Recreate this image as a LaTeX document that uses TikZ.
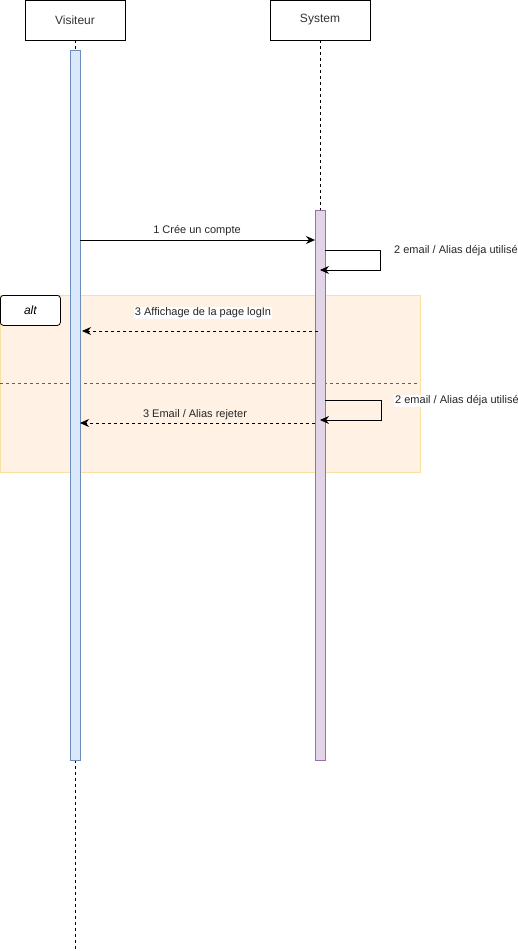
\documentclass[tikz,border=0pt]{standalone}
\usepackage{fontspec}
\setmainfont{Liberation Sans}
\usetikzlibrary{arrows.meta}
\definecolor{actfillA}{HTML}{DAE8FC}
\definecolor{actdrawA}{HTML}{6C8EBF}
\definecolor{actfillB}{HTML}{E1D5E7}
\definecolor{actdrawB}{HTML}{9673A6}
\definecolor{altfill}{HTML}{FFF2E5}
\definecolor{altdraw}{HTML}{F9E1A2}
\definecolor{sepgray}{HTML}{606060}
\tikzset{
  actor/.style={draw, line width=0.9pt, fill=white, minimum width=100pt, minimum height=40pt, inner sep=0pt, font=\fontsize{12}{14}\selectfont, text=black!80},
  life/.style={line width=0.8pt, dash pattern=on 3pt off 3pt},
  actA/.style={draw=actdrawA, fill=actfillA, line width=0.9pt},
  actB/.style={draw=actdrawB, fill=actfillB, line width=0.9pt},
  msg/.style={line width=0.8pt, -{Stealth[length=9pt,width=8pt]}},
  rmsg/.style={line width=0.8pt, dash pattern=on 3pt off 3pt, -{Stealth[length=9pt,width=8pt]}},
  lbl/.style={font=\fontsize{11}{13}\selectfont, text=black!85, inner sep=1pt},
  lblbg/.style={lbl, fill=white},
}
\begin{document}
\begin{tikzpicture}[x=1pt,y=-1pt]
\useasboundingbox (0,0) rectangle (518,951);
% alt frame
\node[draw=altdraw, fill=altfill, line width=0.8pt, minimum width=420pt, minimum height=177pt, inner sep=0pt, anchor=north west] (frame) at (0,295) {};
\draw[sepgray, line width=1pt, dash pattern=on 3pt off 3pt] (0,383) coordinate (sepL) -- (418,383) coordinate (sepR);
\node[draw, fill=white, rounded corners=3pt, line width=0.8pt, minimum width=60pt, minimum height=30pt, inner sep=0pt, anchor=north west, font=\fontsize{12}{14}\selectfont\itshape] (alt) at (0,295) {alt};
% actors
\node[actor] (vis) at (75,20) {Visiteur};
\node[actor] (sys) at (320,20) {System};
\coordinate (visEnd) at (75,950);
\coordinate (sysAct) at (320,210);
\draw[life] (vis.south) -- (visEnd);
\draw[life] (sys.south) -- (sysAct);
% activations
\node[actA, minimum width=10pt, minimum height=710pt, inner sep=0pt, anchor=north] (actV) at (75,50) {};
\node[actB, minimum width=10pt, minimum height=550pt, inner sep=0pt, anchor=north] (actS) at (320,210) {};
% message 1
\coordinate (m1a) at (80,240);
\coordinate (m1b) at (315,240);
\draw[msg] (m1a) -- (m1b);
\node[lbl] (l1) at (197,231) {1 Crée un compte};
% self message 2
\coordinate (s1a) at (325,250);
\coordinate (s1b) at (380,250);
\coordinate (s1c) at (380,270);
\coordinate (s1d) at (320,270);
\draw[msg] (s1a) -- (s1b) -- (s1c) -- (s1d);
\node[lbl, anchor=west] (l2) at (393,251) {2 email / Alias déja utilisé};
% message 3 logIn
\coordinate (m3a) at (318,331);
\coordinate (m3b) at (82,331);
\draw[rmsg] (m3a) -- (m3b);
\node[lblbg] (l3) at (203,313) {3 Affichage de la page logIn};
% self message 2 second
\coordinate (s2a) at (325,400);
\coordinate (s2b) at (381,400);
\coordinate (s2c) at (381,420);
\coordinate (s2d) at (320,420);
\draw[msg] (s2a) -- (s2b) -- (s2c) -- (s2d);
\node[lblbg, anchor=west] (l2b) at (394,401) {2 email / Alias déja utilisé};
% message 3 rejeter
\coordinate (m4a) at (315,423);
\coordinate (m4b) at (80,423);
\draw[rmsg] (m4a) -- (m4b);
\node[lbl] (l4) at (195,415) {3 Email / Alias rejeter};
\end{tikzpicture}
\end{document}
